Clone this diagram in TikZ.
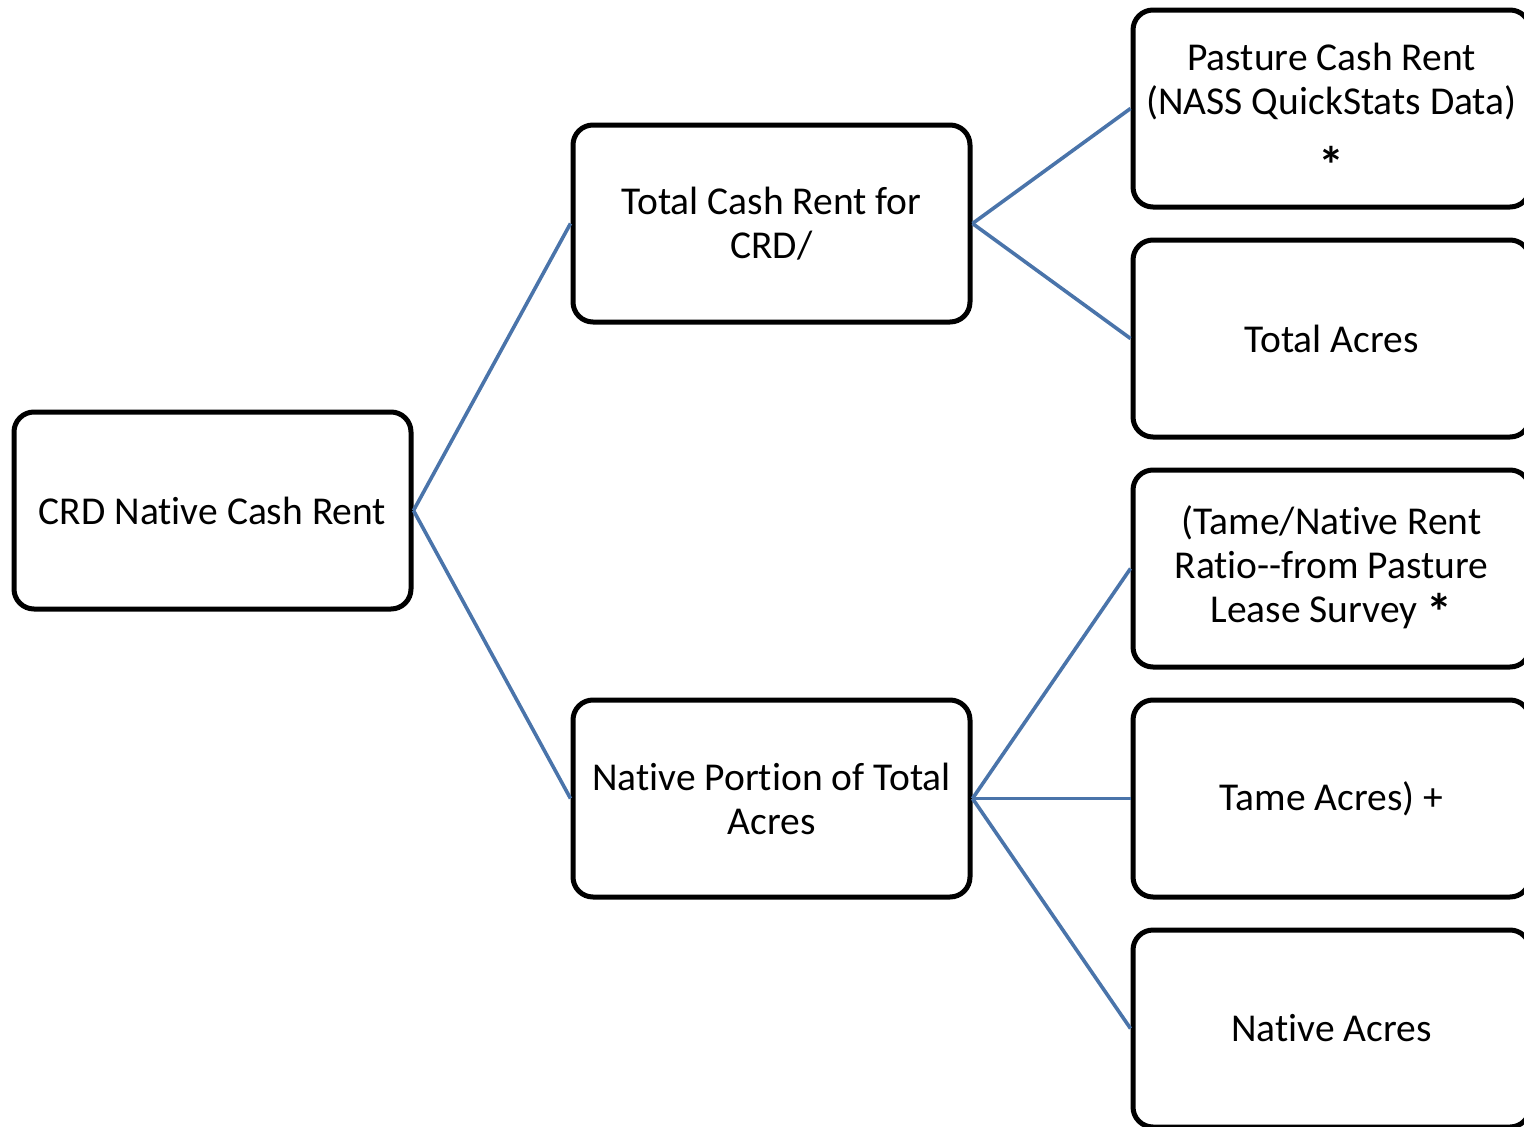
\documentclass[tikz,border=0pt]{standalone}
\usepackage{fontspec}
\setmainfont{Carlito}[Ligatures={NoCommon,TeX}]
\definecolor{linkblue}{HTML}{4A74AA}
\newcommand{\bigast}{\raisebox{-8pt}{\bfseries\fontsize{52}{44}\selectfont *}}
\begin{document}
\begin{tikzpicture}[x=1pt,y=-1pt,
  box/.style={draw=black, line width=5pt, rounded corners=20pt, fill=white,
    minimum width=397pt, minimum height=197pt, inner sep=0pt,
    align=center, font=\fontsize{39.5}{44}\selectfont},
  link/.style={draw=linkblue, line width=3.6pt}]
\useasboundingbox (0,0) rectangle (1524,1127);
\clip (0,0) rectangle (1524,1127);
\node[box] (root) at (212.5,510.5) {CRD Native Cash Rent};
\node[box] (m1) at (771.5,223.5) {Total Cash Rent for\\CRD/};
\node[box] (m2) at (771.5,798.5) {Native Portion of Total\\Acres};
\node[box] (r1) at (1331.5,108.5) {\rule{0pt}{37pt}Pasture Cash Rent\\(NASS QuickStats Data)\\[17pt]\bigast\rule[-2pt]{0pt}{0pt}};
\node[box] (r2) at (1331.5,338.5) {Total Acres};
\node[box] (r3) at (1331.5,568.5) {(Tame/Native Rent\\Ratio-{}-from Pasture\\Lease Survey \bigast};
\node[box] (r4) at (1331.5,798.5) {Tame Acres) +};
\node[box] (r5) at (1331.5,1028.5) {Native Acres};
\draw[link] (root.east) -- (m1.west);
\draw[link] (root.east) -- (m2.west);
\draw[link] (m1.east) -- (r1.west);
\draw[link] (m1.east) -- (r2.west);
\draw[link] (m2.east) -- (r3.west);
\draw[link] (m2.east) -- (r4.west);
\draw[link] (m2.east) -- (r5.west);
\end{tikzpicture}
\end{document}
